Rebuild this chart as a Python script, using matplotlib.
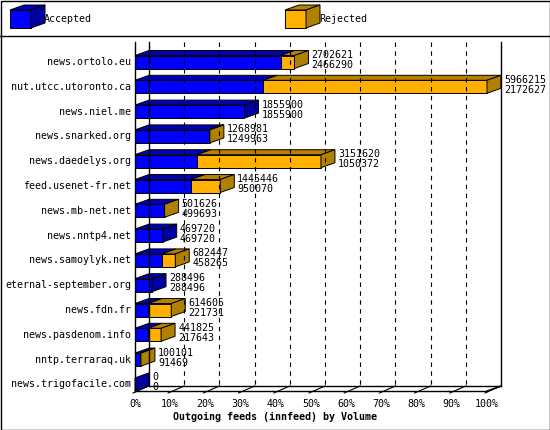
import matplotlib.pyplot as plt
from matplotlib.patches import Polygon, Rectangle

servers = ['news.ortolo.eu', 'nut.utcc.utoronto.ca', 'news.niel.me', 'news.snarked.org',
           'news.daedelys.org', 'feed.usenet-fr.net', 'news.mb-net.net', 'news.nntp4.net',
           'news.samoylyk.net', 'eternal-september.org', 'news.fdn.fr', 'news.pasdenom.info',
           'nntp.terraraq.uk', 'news.trigofacile.com']
offered = [2702621, 5966215, 1855900, 1268981, 3151620, 1445446, 501626, 469720,
           682447, 288496, 614605, 441825, 100101, 0]
accepted = [2466290, 2172627, 1855900, 1249963, 1050372, 950070, 499693, 469720,
            458265, 288496, 221731, 217643, 91469, 0]
ticks = ['0%', '10%', '20%', '30%', '40%', '50%', '60%', '70%', '80%', '90%', '100%']

x0, x1 = 135, 487   # front 0% / 100%
dx, dy = 14, 5      # depth
y_first, step, bh = 62, 24.8, 13
vmax = max(offered)
mono = 'DejaVu Sans Mono'
fs = 7.2

def px(v):
    return x0 + (x1 - x0) * v / vmax

fig = plt.figure(figsize=(5.5, 4.3), dpi=100)
ax = fig.add_axes([0, 0, 1, 1])
ax.set_xlim(0, 550)
ax.set_ylim(430, 0)
ax.axis('off')

# frame and legend
ax.add_patch(Rectangle((0.5, 0.5), 549, 429, fill=False, ec='black', lw=1))
ax.plot([0, 550], [36, 36], color='black', lw=1)

def box3d(xa, xb, yc, front, top, side, h=bh):
    yt = yc - h / 2
    yb = yc + h / 2
    if xb > xa:
        ax.add_patch(Polygon([(xa, yt), (xa + dx, yt - dy), (xb + dx, yt - dy), (xb, yt)],
                             fc=top, ec='black', lw=0.7))
        ax.add_patch(Rectangle((xa, yt), xb - xa, h, fc=front, ec='black', lw=0.7))
    ax.add_patch(Polygon([(xb, yt), (xb + dx, yt - dy), (xb + dx, yb - dy), (xb, yb)],
                         fc=side, ec='black', lw=0.7))

blue = ('#0000ff', '#0000b8', '#0000a0')
orange = ('#ffb000', '#b88000', '#b08000')
box3d(10, 31, 19, *blue, h=18)
ax.text(44, 19, 'Accepted', fontfamily=mono, fontsize=fs, va='center')
box3d(285, 306, 19, *orange, h=18)
ax.text(319, 19, 'Rejected', fontfamily=mono, fontsize=fs, va='center')

# walls and grid
ax.plot([x0, x0], [42, 391], color='black', lw=1)
ax.plot([x0 + dx, x0 + dx], [42, 386], color='black', lw=1)
ax.plot([x1 + dx, x1 + dx], [42, 386], color='black', lw=1)
for k in range(1, 10):
    gx = x0 + dx + (x1 - x0) * k / 10
    ax.plot([gx, gx], [42, 386], color='black', lw=0.8, ls=(0, (4, 4)))
ax.plot([x0, x1], [391, 391], color='black', lw=1)
ax.plot([x0 + dx, x1 + dx], [386, 386], color='black', lw=1)
ax.plot([x1, x1 + dx], [391, 386], color='black', lw=1)
for k, t in enumerate(ticks):
    tx = x0 + (x1 - x0) * k / 10
    ax.plot([tx - 2, tx + dx], [393, 386], color='black', lw=0.8)
    ax.text(tx, 404, t, fontfamily=mono, fontsize=fs, ha='center', va='center')
ax.text(275, 417, 'Outgoing feeds (innfeed) by Volume', fontfamily=mono, fontsize=fs,
        fontweight='bold', ha='center', va='center')

for i, name in enumerate(servers):
    yc = y_first + i * step
    xa = px(accepted[i])
    xo = px(offered[i])
    ax.text(x0 - 4, yc, name, fontfamily=mono, fontsize=fs, ha='right', va='center')
    if offered[i] > accepted[i]:
        ax.add_patch(Polygon([(x0, yc - bh / 2), (x0 + dx, yc - bh / 2 - dy),
                              (xa + dx, yc - bh / 2 - dy), (xa, yc - bh / 2)],
                             fc=blue[1], ec='black', lw=0.7))
        ax.add_patch(Rectangle((x0, yc - bh / 2), xa - x0, bh, fc=blue[0], ec='black', lw=0.7))
        box3d(xa, xo, yc, *orange)
    else:
        box3d(x0, xo, yc, *blue)
    ax.text(xo + dx + 3, yc - 2, str(offered[i]), fontfamily=mono, fontsize=fs, va='bottom')
    ax.text(xo + dx + 3, yc - 2, str(accepted[i]), fontfamily=mono, fontsize=fs, va='top')

fig.savefig('out.png', dpi=100)
